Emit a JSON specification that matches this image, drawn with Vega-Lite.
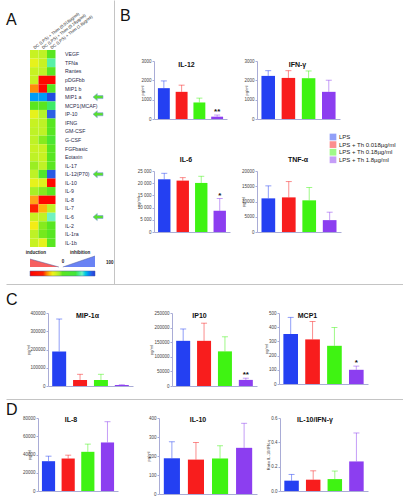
{
  "$schema": "https://vega.github.io/schema/vega-lite/v6.json",
  "padding": {"left": 6, "top": 0, "right": 0, "bottom": 0},
  "autosize": {"type": "pad"},
  "background": "white",
  "spacing": 0,
  "config": {
    "view": {"stroke": null},
    "font": "Liberation Sans",
    "title": {"font": "Liberation Sans", "fontSize": 7, "fontWeight": "bold", "color": "#111"},
    "axis": {"labelFont": "Liberation Sans", "titleFont": "Liberation Sans", "labelFontSize": 4.5, "titleFontSize": 4, "titleFontWeight": "normal", "labelColor": "#444", "titleColor": "#333", "domainColor": "#a9acd6", "tickColor": "#a9acd6", "tickSize": 2, "labelPadding": 1, "grid": false, "labelOverlap": false},
    "legend": {"labelFont": "Liberation Sans"}
  },
  "datasets": {
    "heat": [
      {"cytokine": "VEGF", "dose": "0.018µg/ml", "value": -18}, {"cytokine": "VEGF", "dose": "0.18µg/ml", "value": -15}, {"cytokine": "VEGF", "dose": "1.8µg/ml", "value": 2},
      {"cytokine": "TFNa", "dose": "0.018µg/ml", "value": -28}, {"cytokine": "TFNa", "dose": "0.18µg/ml", "value": -18}, {"cytokine": "TFNa", "dose": "1.8µg/ml", "value": 55},
      {"cytokine": "Rantes", "dose": "0.018µg/ml", "value": -18}, {"cytokine": "Rantes", "dose": "0.18µg/ml", "value": -15}, {"cytokine": "Rantes", "dose": "1.8µg/ml", "value": 3},
      {"cytokine": "pDGFbb", "dose": "0.018µg/ml", "value": -18}, {"cytokine": "pDGFbb", "dose": "0.18µg/ml", "value": -95}, {"cytokine": "pDGFbb", "dose": "1.8µg/ml", "value": -95},
      {"cytokine": "MIP1 b", "dose": "0.018µg/ml", "value": -48}, {"cytokine": "MIP1 b", "dose": "0.18µg/ml", "value": -95}, {"cytokine": "MIP1 b", "dose": "1.8µg/ml", "value": 3},
      {"cytokine": "MIP1 a", "dose": "0.018µg/ml", "value": 78}, {"cytokine": "MIP1 a", "dose": "0.18µg/ml", "value": 78}, {"cytokine": "MIP1 a", "dose": "1.8µg/ml", "value": 95},
      {"cytokine": "MCP1(MCAF)", "dose": "0.018µg/ml", "value": 0}, {"cytokine": "MCP1(MCAF)", "dose": "0.18µg/ml", "value": 2}, {"cytokine": "MCP1(MCAF)", "dose": "1.8µg/ml", "value": 45},
      {"cytokine": "IP-10", "dose": "0.018µg/ml", "value": -28}, {"cytokine": "IP-10", "dose": "0.18µg/ml", "value": -12}, {"cytokine": "IP-10", "dose": "1.8µg/ml", "value": 88},
      {"cytokine": "IFNG", "dose": "0.018µg/ml", "value": -18}, {"cytokine": "IFNG", "dose": "0.18µg/ml", "value": -15}, {"cytokine": "IFNG", "dose": "1.8µg/ml", "value": 3},
      {"cytokine": "GM-CSF", "dose": "0.018µg/ml", "value": -15}, {"cytokine": "GM-CSF", "dose": "0.18µg/ml", "value": -15}, {"cytokine": "GM-CSF", "dose": "1.8µg/ml", "value": 5},
      {"cytokine": "G-CSF", "dose": "0.018µg/ml", "value": -15}, {"cytokine": "G-CSF", "dose": "0.18µg/ml", "value": -5}, {"cytokine": "G-CSF", "dose": "1.8µg/ml", "value": 25},
      {"cytokine": "FGFbasic", "dose": "0.018µg/ml", "value": -18}, {"cytokine": "FGFbasic", "dose": "0.18µg/ml", "value": -18}, {"cytokine": "FGFbasic", "dose": "1.8µg/ml", "value": 3},
      {"cytokine": "Eotaxin", "dose": "0.018µg/ml", "value": -15}, {"cytokine": "Eotaxin", "dose": "0.18µg/ml", "value": -18}, {"cytokine": "Eotaxin", "dose": "1.8µg/ml", "value": 3},
      {"cytokine": "IL-17", "dose": "0.018µg/ml", "value": -8}, {"cytokine": "IL-17", "dose": "0.18µg/ml", "value": -15}, {"cytokine": "IL-17", "dose": "1.8µg/ml", "value": 2},
      {"cytokine": "IL-12(P70)", "dose": "0.018µg/ml", "value": -15}, {"cytokine": "IL-12(P70)", "dose": "0.18µg/ml", "value": 15}, {"cytokine": "IL-12(P70)", "dose": "1.8µg/ml", "value": 90},
      {"cytokine": "IL-10", "dose": "0.018µg/ml", "value": -28}, {"cytokine": "IL-10", "dose": "0.18µg/ml", "value": -25}, {"cytokine": "IL-10", "dose": "1.8µg/ml", "value": -92},
      {"cytokine": "IL-9", "dose": "0.018µg/ml", "value": -10}, {"cytokine": "IL-9", "dose": "0.18µg/ml", "value": -5}, {"cytokine": "IL-9", "dose": "1.8µg/ml", "value": 2},
      {"cytokine": "IL-8", "dose": "0.018µg/ml", "value": -45}, {"cytokine": "IL-8", "dose": "0.18µg/ml", "value": -95}, {"cytokine": "IL-8", "dose": "1.8µg/ml", "value": -95},
      {"cytokine": "IL-7", "dose": "0.018µg/ml", "value": -58}, {"cytokine": "IL-7", "dose": "0.18µg/ml", "value": -42}, {"cytokine": "IL-7", "dose": "1.8µg/ml", "value": -15},
      {"cytokine": "IL-6", "dose": "0.018µg/ml", "value": -18}, {"cytokine": "IL-6", "dose": "0.18µg/ml", "value": -15}, {"cytokine": "IL-6", "dose": "1.8µg/ml", "value": 60},
      {"cytokine": "IL-2", "dose": "0.018µg/ml", "value": -33}, {"cytokine": "IL-2", "dose": "0.18µg/ml", "value": -5}, {"cytokine": "IL-2", "dose": "1.8µg/ml", "value": 3},
      {"cytokine": "IL-1ra", "dose": "0.018µg/ml", "value": -15}, {"cytokine": "IL-1ra", "dose": "0.18µg/ml", "value": -3}, {"cytokine": "IL-1ra", "dose": "1.8µg/ml", "value": 5},
      {"cytokine": "IL-1b", "dose": "0.018µg/ml", "value": -18}, {"cytokine": "IL-1b", "dose": "0.18µg/ml", "value": -28}, {"cytokine": "IL-1b", "dose": "1.8µg/ml", "value": 3}
    ],
    "arrows": [{"cytokine": "MIP1 a"}, {"cytokine": "IP-10"}, {"cytokine": "IL-12(P70)"}, {"cytokine": "IL-6"}],
    "wedge": [
      {"side": "induction", "v": -100, "h": 8}, {"side": "induction", "v": -11, "h": 0},
      {"side": "inhibition", "v": 1, "h": 0}, {"side": "inhibition", "v": 100, "h": 11}
    ],
    "wedgeText": [
      {"label": "induction", "v": -82, "h": 14.3}, {"label": "inhibition", "v": 54, "h": 14.3},
      {"label": "0", "v": 1.5, "h": 5}, {"label": "100", "v": 145, "h": 4}
    ],
    "bars": [
      {"panel": "IL-12", "group": "LPS", "mean": 1595, "upper": 1970},
      {"panel": "IL-12", "group": "LPS + Th 0.018µg/ml", "mean": 1405, "upper": 1750},
      {"panel": "IL-12", "group": "LPS + Th 0.18µg/ml", "mean": 855, "upper": 1080},
      {"panel": "IL-12", "group": "LPS + Th 1.8µg/ml", "mean": 120, "upper": 205, "sig": "**"},
      {"panel": "IFN-γ", "group": "LPS", "mean": 2230, "upper": 2500},
      {"panel": "IFN-γ", "group": "LPS + Th 0.018µg/ml", "mean": 2125, "upper": 2500},
      {"panel": "IFN-γ", "group": "LPS + Th 0.18µg/ml", "mean": 2110, "upper": 2485},
      {"panel": "IFN-γ", "group": "LPS + Th 1.8µg/ml", "mean": 1405, "upper": 2005},
      {"panel": "IL-6", "group": "LPS", "mean": 21600, "upper": 24050},
      {"panel": "IL-6", "group": "LPS + Th 0.018µg/ml", "mean": 21060, "upper": 22280},
      {"panel": "IL-6", "group": "LPS + Th 0.18µg/ml", "mean": 20110, "upper": 22830},
      {"panel": "IL-6", "group": "LPS + Th 1.8µg/ml", "mean": 8700, "upper": 13720, "sig": "*"},
      {"panel": "TNF-α", "group": "LPS", "mean": 11030, "upper": 15130},
      {"panel": "TNF-α", "group": "LPS + Th 0.018µg/ml", "mean": 11350, "upper": 16540},
      {"panel": "TNF-α", "group": "LPS + Th 0.18µg/ml", "mean": 10380, "upper": 14590},
      {"panel": "TNF-α", "group": "LPS + Th 1.8µg/ml", "mean": 3890, "upper": 6490},
      {"panel": "MIP-1α", "group": "LPS", "mean": 189000, "upper": 367000},
      {"panel": "MIP-1α", "group": "LPS + Th 0.018µg/ml", "mean": 33000, "upper": 64000},
      {"panel": "MIP-1α", "group": "LPS + Th 0.18µg/ml", "mean": 33000, "upper": 64000},
      {"panel": "MIP-1α", "group": "LPS + Th 1.8µg/ml", "mean": 5500, "upper": 7000},
      {"panel": "IP10", "group": "LPS", "mean": 154700, "upper": 195300},
      {"panel": "IP10", "group": "LPS + Th 0.018µg/ml", "mean": 154700, "upper": 215100},
      {"panel": "IP10", "group": "LPS + Th 0.18µg/ml", "mean": 118600, "upper": 168600},
      {"panel": "IP10", "group": "LPS + Th 1.8µg/ml", "mean": 20900, "upper": 26700, "sig": "**"},
      {"panel": "MCP1", "group": "LPS", "mean": 352, "upper": 469},
      {"panel": "MCP1", "group": "LPS + Th 0.018µg/ml", "mean": 314, "upper": 440},
      {"panel": "MCP1", "group": "LPS + Th 0.18µg/ml", "mean": 269, "upper": 398},
      {"panel": "MCP1", "group": "LPS + Th 1.8µg/ml", "mean": 100, "upper": 126, "sig": "*"},
      {"panel": "IL-8", "group": "LPS", "mean": 32660, "upper": 38160},
      {"panel": "IL-8", "group": "LPS + Th 0.018µg/ml", "mean": 35600, "upper": 39270},
      {"panel": "IL-8", "group": "LPS + Th 0.18µg/ml", "mean": 42940, "upper": 51380},
      {"panel": "IL-8", "group": "LPS + Th 1.8µg/ml", "mean": 53200, "upper": 75960},
      {"panel": "IL-10", "group": "LPS", "mean": 188, "upper": 275},
      {"panel": "IL-10", "group": "LPS + Th 0.018µg/ml", "mean": 181, "upper": 271},
      {"panel": "IL-10", "group": "LPS + Th 0.18µg/ml", "mean": 187, "upper": 254},
      {"panel": "IL-10", "group": "LPS + Th 1.8µg/ml", "mean": 243, "upper": 372},
      {"panel": "IL-10/IFN-γ", "group": "LPS", "mean": 0.085, "upper": 0.136},
      {"panel": "IL-10/IFN-γ", "group": "LPS + Th 0.018µg/ml", "mean": 0.093, "upper": 0.166},
      {"panel": "IL-10/IFN-γ", "group": "LPS + Th 0.18µg/ml", "mean": 0.098, "upper": 0.164},
      {"panel": "IL-10/IFN-γ", "group": "LPS + Th 1.8µg/ml", "mean": 0.243, "upper": 0.477}
    ]
  },
  "resolve": {"scale": {"color": "independent"}},
  "vconcat": [
    {
      "title": {"text": "A", "anchor": "start", "fontSize": 16, "fontWeight": "normal", "baseline": "alphabetic", "offset": -41},
      "spacing": 0,
      "resolve": {"scale": {"color": "independent"}},
      "hconcat": [
        {"width": 18.7, "height": 10, "data": {"values": [{"v": 0}]}, "mark": {"type": "point", "opacity": 0}, "encoding": {}},
        {
          "spacing": 9,
          "bounds": "flush",
          "resolve": {"scale": {"color": "independent"}},
          "vconcat": [
            {"width": 10, "height": 41, "data": {"values": [{"v": 0}]}, "mark": {"type": "point", "opacity": 0}, "encoding": {}},
            {
              "width": 25.5, "height": 197,
              "data": {"name": "heat"},
              "encoding": {
                "x": {"field": "dose", "type": "nominal", "sort": null, "scale": {"padding": 0}, "axis": {"orient": "top", "labelAngle": -38, "labelAlign": "left", "labelBaseline": "middle", "labelFontSize": 4.2, "labelColor": "#222", "labelExpr": "'DC (LPS) + Thim (' + datum.label + ')'", "ticks": false, "domain": false, "title": null, "labelPadding": 2}},
                "y": {"field": "cytokine", "type": "nominal", "sort": null, "scale": {"padding": 0}, "axis": {"orient": "right", "ticks": false, "domain": false, "title": null, "labelPadding": 9, "labelFontSize": 5.2, "labelColor": "#2a2a4a"}}
              },
              "layer": [
                {"mark": {"type": "rect"}, "encoding": {"color": {"field": "value", "type": "quantitative", "scale": {"domain": [-100, -57, -46, -32, -12, 0, 40, 62, 85, 100], "range": ["#ff0000", "#ff2000", "#ff9c1c", "#f2f21c", "#b4f22a", "#5ae61e", "#42e63a", "#7cf2c8", "#3366e6", "#1f3ddc"]}, "legend": null}}},
                {"data": {"name": "arrows"}, "mark": {"type": "point", "shape": "M -1 0 L -0.15 -0.7 L -0.15 -0.3 L 1 -0.3 L 1 0.3 L -0.15 0.3 L -0.15 0.7 Z", "size": 100, "filled": true, "fill": "#58e02c", "stroke": "#7d9be0", "strokeWidth": 0.6, "opacity": 1, "xOffset": 46.75}, "encoding": {"x": {"datum": "1.8µg/ml"}}}
              ]
            },
            {
              "width": 65, "height": 11,
              "data": {"name": "wedge"},
              "encoding": {
                "x": {"field": "v", "type": "quantitative", "scale": {"domain": [-100, 100], "nice": false, "zero": false}, "axis": null},
                "y": {"field": "h", "type": "quantitative", "scale": {"domain": [0, 11], "nice": false}, "axis": null}
              },
              "layer": [
                {"transform": [{"filter": "datum.side == 'induction'"}], "mark": {"type": "area", "color": "#f21c1c", "line": {"color": "#4d5c9c", "strokeWidth": 0.5}}},
                {"transform": [{"filter": "datum.side == 'inhibition'"}], "mark": {"type": "area", "color": "#2b4ff0", "line": {"color": "#4d5c9c", "strokeWidth": 0.5}}},
                {"mark": {"type": "point", "opacity": 0}, "encoding": {"color": {"field": "v", "type": "quantitative", "scale": {"domain": [-100, -57, -46, -32, -12, 0, 40, 62, 85, 100], "range": ["#ff0000", "#ff2000", "#ff9c1c", "#f2f21c", "#b4f22a", "#5ae61e", "#42e63a", "#7cf2c8", "#3366e6", "#1f3ddc"]}, "legend": {"orient": "none", "legendX": 0, "legendY": 15, "direction": "horizontal", "gradientLength": 65, "gradientThickness": 5, "title": null, "labelExpr": "''", "labelFontSize": 1, "gradientStrokeColor": "#4d5c9c", "gradientStrokeWidth": 0.5, "padding": 0}}}},
                {"data": {"name": "wedgeText"}, "mark": {"type": "text", "fontSize": 4.5, "fontWeight": "bold", "color": "#222"}, "encoding": {"text": {"field": "label"}}}
              ]
            }
          ]
        },
        {
          "width": 5.6, "height": 284,
          "data": {"values": [{"v": 0}]},
          "mark": {"type": "point", "opacity": 0},
          "encoding": {"y": {"field": "v", "type": "quantitative", "axis": {"domain": true, "domainColor": "#c4c4c4", "domainWidth": 1, "ticks": false, "labels": false, "title": null}}}
        },
        {
          "title": {"text": "B", "anchor": "start", "fontSize": 16, "fontWeight": "normal", "baseline": "alphabetic", "offset": -37},
          "columns": 3,
          "spacing": {"row": 52, "column": 27},
          "bounds": "flush",
          "align": "each",
          "resolve": {"scale": {"color": "independent"}},
          "concat": [
            {"width": 7, "height": 9, "data": {"values": [{"v": 0}]}, "mark": {"type": "point", "opacity": 0}, "encoding": {}},
            {"width": 1, "height": 9, "data": {"values": [{"v": 0}]}, "mark": {"type": "point", "opacity": 0}, "encoding": {}},
            {"width": 1, "height": 9, "data": {"values": [{"v": 0}]}, "mark": {"type": "point", "opacity": 0}, "encoding": {}},
            {"width": 7, "height": 9, "data": {"values": [{"v": 0}]}, "mark": {"type": "point", "opacity": 0}, "encoding": {}},
            {
              "width": 73, "height": 58,
              "title": {"text": "IL-12", "offset": -10, "dx": -4},
              "data": {"name": "bars"},
              "transform": [{"filter": "datum.panel == 'IL-12'"}],
              "encoding": {
                "x": {"field": "group", "type": "nominal", "sort": null, "scale": {"paddingInner": 0.33, "paddingOuter": 0.22}, "axis": {"labels": false, "ticks": false, "title": null}},
                "y": {"field": "mean", "type": "quantitative", "scale": {"domain": [0, 3000], "nice": false}, "axis": {"values": [0, 1000, 2000, 3000], "format": "d", "title": "pg/ml", "titlePadding": -4}},
                "color": {"field": "group", "type": "nominal", "sort": null, "scale": {"domain": ["LPS", "LPS + Th 0.018µg/ml", "LPS + Th 0.18µg/ml", "LPS + Th 1.8µg/ml"], "range": ["#2440f2", "#f81d1d", "#3ff312", "#8c3ef0"]}, "legend": null}
              },
              "layer": [
                {"mark": {"type": "rule", "opacity": 0.5, "strokeWidth": 1}, "encoding": {"y2": {"field": "upper"}}},
                {"mark": {"type": "tick", "opacity": 0.5, "thickness": 1, "size": 6}, "encoding": {"y": {"field": "upper", "type": "quantitative"}}},
                {"mark": {"type": "bar"}},
                {"transform": [{"filter": "datum.sig"}], "mark": {"type": "text", "fontSize": 8, "fontWeight": "bold", "dy": -3}, "encoding": {"y": {"field": "upper", "type": "quantitative"}, "text": {"field": "sig"}, "color": {"value": "#111"}}}
              ]
            },
            {
              "width": 83, "height": 58,
              "title": {"text": "IFN-γ", "offset": -10, "dx": -1},
              "data": {"name": "bars"},
              "transform": [{"filter": "datum.panel == 'IFN-γ'"}],
              "encoding": {
                "x": {"field": "group", "type": "nominal", "sort": null, "scale": {"paddingInner": 0.33, "paddingOuter": 0.22}, "axis": {"labels": false, "ticks": false, "title": null}},
                "y": {"field": "mean", "type": "quantitative", "scale": {"domain": [0, 3000], "nice": false}, "axis": {"values": [0, 1000, 2000, 3000], "format": "d", "title": "pg/ml", "titlePadding": -5}},
                "color": {"field": "group", "type": "nominal", "sort": null, "scale": {"domain": ["LPS", "LPS + Th 0.018µg/ml", "LPS + Th 0.18µg/ml", "LPS + Th 1.8µg/ml"], "range": ["#2440f2", "#f81d1d", "#3ff312", "#8c3ef0"]}, "legend": {"orient": "none", "legendX": 72.5, "legendY": 72.5, "title": null, "symbolType": "square", "symbolSize": 45, "symbolStrokeWidth": 0, "labelFontSize": 6, "labelColor": "#222", "rowPadding": 0.6, "labelOffset": 2.5, "padding": 0}}
              },
              "layer": [
                {"mark": {"type": "rule", "opacity": 0.5, "strokeWidth": 1}, "encoding": {"y2": {"field": "upper"}}},
                {"mark": {"type": "tick", "opacity": 0.5, "thickness": 1, "size": 6}, "encoding": {"y": {"field": "upper", "type": "quantitative"}}},
                {"mark": {"type": "bar"}}
              ]
            },
            {"width": 7, "height": 9, "data": {"values": [{"v": 0}]}, "mark": {"type": "point", "opacity": 0}, "encoding": {}},
            {
              "width": 76, "height": 61,
              "title": {"text": "IL-6", "offset": 5, "dx": -6},
              "data": {"name": "bars"},
              "transform": [{"filter": "datum.panel == 'IL-6'"}],
              "encoding": {
                "x": {"field": "group", "type": "nominal", "sort": null, "scale": {"paddingInner": 0.33, "paddingOuter": 0.22}, "axis": {"labels": false, "ticks": false, "title": null}},
                "y": {"field": "mean", "type": "quantitative", "scale": {"domain": [0, 25000], "nice": false}, "axis": {"values": [0, 5000, 10000, 15000, 20000, 25000], "labelExpr": "replace(format(datum.value, ','), ',', ' ')", "title": "pg/ml", "titlePadding": -3}},
                "color": {"field": "group", "type": "nominal", "sort": null, "scale": {"domain": ["LPS", "LPS + Th 0.018µg/ml", "LPS + Th 0.18µg/ml", "LPS + Th 1.8µg/ml"], "range": ["#2440f2", "#f81d1d", "#3ff312", "#8c3ef0"]}, "legend": null}
              },
              "layer": [
                {"mark": {"type": "rule", "opacity": 0.5, "strokeWidth": 1}, "encoding": {"y2": {"field": "upper"}}},
                {"mark": {"type": "tick", "opacity": 0.5, "thickness": 1, "size": 6}, "encoding": {"y": {"field": "upper", "type": "quantitative"}}},
                {"mark": {"type": "bar"}},
                {"transform": [{"filter": "datum.sig"}], "mark": {"type": "text", "fontSize": 8, "fontWeight": "bold", "dy": -3}, "encoding": {"y": {"field": "upper", "type": "quantitative"}, "text": {"field": "sig"}, "color": {"value": "#111"}}}
              ]
            },
            {
              "width": 84, "height": 61,
              "title": {"text": "TNF-α", "offset": 5, "dx": -1},
              "data": {"name": "bars"},
              "transform": [{"filter": "datum.panel == 'TNF-α'"}],
              "encoding": {
                "x": {"field": "group", "type": "nominal", "sort": null, "scale": {"paddingInner": 0.33, "paddingOuter": 0.22}, "axis": {"labels": false, "ticks": false, "title": null}},
                "y": {"field": "mean", "type": "quantitative", "scale": {"domain": [0, 20000], "nice": false}, "axis": {"values": [0, 5000, 10000, 15000, 20000], "format": "d", "title": "pg/ml", "titlePadding": -4.5}},
                "color": {"field": "group", "type": "nominal", "sort": null, "scale": {"domain": ["LPS", "LPS + Th 0.018µg/ml", "LPS + Th 0.18µg/ml", "LPS + Th 1.8µg/ml"], "range": ["#2440f2", "#f81d1d", "#3ff312", "#8c3ef0"]}, "legend": null}
              },
              "layer": [
                {"mark": {"type": "rule", "opacity": 0.5, "strokeWidth": 1}, "encoding": {"y2": {"field": "upper"}}},
                {"mark": {"type": "tick", "opacity": 0.5, "thickness": 1, "size": 6}, "encoding": {"y": {"field": "upper", "type": "quantitative"}}},
                {"mark": {"type": "bar"}}
              ]
            }
          ]
        }
      ]
    },
    {
      "width": 397, "height": 7,
      "data": {"values": [{"v": 0}]},
      "mark": {"type": "point", "opacity": 0},
      "encoding": {"x": {"field": "v", "type": "quantitative", "axis": {"orient": "top", "domain": true, "domainColor": "#c4c4c4", "domainWidth": 1, "ticks": false, "labels": false, "title": null}}}
    },
    {
      "title": {"text": "C", "anchor": "start", "fontSize": 16, "fontWeight": "normal", "baseline": "alphabetic", "offset": -10.75},
      "spacing": 8,
      "bounds": "flush",
      "resolve": {"scale": {"color": "independent"}},
      "hconcat": [
        {"width": 34, "height": 10, "data": {"values": [{"v": 0}]}, "mark": {"type": "point", "opacity": 0}, "encoding": {}},
        {
          "width": 85, "height": 73,
          "title": {"text": "MIP-1α", "offset": -9, "dx": -3},
          "data": {"name": "bars"},
          "transform": [{"filter": "datum.panel == 'MIP-1α'"}],
          "encoding": {
            "x": {"field": "group", "type": "nominal", "sort": null, "scale": {"paddingInner": 0.33, "paddingOuter": 0.2}, "axis": {"labels": false, "ticks": false, "title": null}},
            "y": {"field": "mean", "type": "quantitative", "scale": {"domain": [0, 400000], "nice": false}, "axis": {"values": [0, 100000, 200000, 300000, 400000], "format": "d", "title": "pg/ml", "titlePadding": -1}},
            "color": {"field": "group", "type": "nominal", "sort": null, "scale": {"domain": ["LPS", "LPS + Th 0.018µg/ml", "LPS + Th 0.18µg/ml", "LPS + Th 1.8µg/ml"], "range": ["#2440f2", "#f81d1d", "#3ff312", "#8c3ef0"]}, "legend": null}
          },
          "layer": [
            {"mark": {"type": "rule", "opacity": 0.5, "strokeWidth": 1}, "encoding": {"y2": {"field": "upper"}}},
            {"mark": {"type": "tick", "opacity": 0.5, "thickness": 1, "size": 6}, "encoding": {"y": {"field": "upper", "type": "quantitative"}}},
            {"mark": {"type": "bar"}}
          ]
        },
        {"width": 23, "height": 10, "data": {"values": [{"v": 0}]}, "mark": {"type": "point", "opacity": 0}, "encoding": {}},
        {
          "width": 85, "height": 73,
          "title": {"text": "IP10", "offset": -9, "dx": -15},
          "data": {"name": "bars"},
          "transform": [{"filter": "datum.panel == 'IP10'"}],
          "encoding": {
            "x": {"field": "group", "type": "nominal", "sort": null, "scale": {"paddingInner": 0.33, "paddingOuter": 0.2}, "axis": {"labels": false, "ticks": false, "title": null}},
            "y": {"field": "mean", "type": "quantitative", "scale": {"domain": [0, 250000], "nice": false}, "axis": {"values": [0, 50000, 100000, 150000, 200000, 250000], "format": "d", "title": "pg/ml", "titlePadding": 0}},
            "color": {"field": "group", "type": "nominal", "sort": null, "scale": {"domain": ["LPS", "LPS + Th 0.018µg/ml", "LPS + Th 0.18µg/ml", "LPS + Th 1.8µg/ml"], "range": ["#2440f2", "#f81d1d", "#3ff312", "#8c3ef0"]}, "legend": null}
          },
          "layer": [
            {"mark": {"type": "rule", "opacity": 0.5, "strokeWidth": 1}, "encoding": {"y2": {"field": "upper"}}},
            {"mark": {"type": "tick", "opacity": 0.5, "thickness": 1, "size": 6}, "encoding": {"y": {"field": "upper", "type": "quantitative"}}},
            {"mark": {"type": "bar"}},
            {"transform": [{"filter": "datum.sig"}], "mark": {"type": "text", "fontSize": 8, "fontWeight": "bold", "dy": -3}, "encoding": {"y": {"field": "upper", "type": "quantitative"}, "text": {"field": "sig"}, "color": {"value": "#111"}}}
          ]
        },
        {"width": 6, "height": 10, "data": {"values": [{"v": 0}]}, "mark": {"type": "point", "opacity": 0}, "encoding": {}},
        {
          "width": 89, "height": 71,
          "title": {"text": "MCP1", "offset": -9, "dx": -16},
          "data": {"name": "bars"},
          "transform": [{"filter": "datum.panel == 'MCP1'"}],
          "encoding": {
            "x": {"field": "group", "type": "nominal", "sort": null, "scale": {"paddingInner": 0.33, "paddingOuter": 0.2}, "axis": {"labels": false, "ticks": false, "title": null}},
            "y": {"field": "mean", "type": "quantitative", "scale": {"domain": [0, 500], "nice": false}, "axis": {"values": [0, 100, 200, 300, 400, 500], "format": "d", "title": "pg/ml", "titlePadding": -0.5}},
            "color": {"field": "group", "type": "nominal", "sort": null, "scale": {"domain": ["LPS", "LPS + Th 0.018µg/ml", "LPS + Th 0.18µg/ml", "LPS + Th 1.8µg/ml"], "range": ["#2440f2", "#f81d1d", "#3ff312", "#8c3ef0"]}, "legend": null}
          },
          "layer": [
            {"mark": {"type": "rule", "opacity": 0.5, "strokeWidth": 1}, "encoding": {"y2": {"field": "upper"}}},
            {"mark": {"type": "tick", "opacity": 0.5, "thickness": 1, "size": 6}, "encoding": {"y": {"field": "upper", "type": "quantitative"}}},
            {"mark": {"type": "bar"}},
            {"transform": [{"filter": "datum.sig"}], "mark": {"type": "text", "fontSize": 8, "fontWeight": "bold", "dy": -3}, "encoding": {"y": {"field": "upper", "type": "quantitative"}, "text": {"field": "sig"}, "color": {"value": "#111"}}}
          ]
        }
      ]
    },
    {
      "width": 397, "height": 13,
      "data": {"values": [{"v": 0}]},
      "mark": {"type": "point", "opacity": 0},
      "encoding": {"x": {"field": "v", "type": "quantitative", "axis": {"orient": "top", "offset": -11, "domain": true, "domainColor": "#c4c4c4", "domainWidth": 1, "ticks": false, "labels": false, "title": null}}}
    },
    {
      "title": {"text": "D", "anchor": "start", "fontSize": 16, "fontWeight": "normal", "baseline": "alphabetic", "offset": -15.85},
      "spacing": 8,
      "bounds": "flush",
      "resolve": {"scale": {"color": "independent"}},
      "hconcat": [
        {"width": 24, "height": 10, "data": {"values": [{"v": 0}]}, "mark": {"type": "point", "opacity": 0}, "encoding": {}},
        {
          "width": 80, "height": 73,
          "title": {"text": "IL-8", "offset": -8, "dx": -7},
          "data": {"name": "bars"},
          "transform": [{"filter": "datum.panel == 'IL-8'"}],
          "encoding": {
            "x": {"field": "group", "type": "nominal", "sort": null, "scale": {"paddingInner": 0.33, "paddingOuter": 0.2}, "axis": {"labels": false, "ticks": false, "title": null}},
            "y": {"field": "mean", "type": "quantitative", "scale": {"domain": [0, 80000], "nice": false}, "axis": {"values": [0, 20000, 40000, 60000, 80000], "format": "d", "title": "pg/ml", "titlePadding": -9}},
            "color": {"field": "group", "type": "nominal", "sort": null, "scale": {"domain": ["LPS", "LPS + Th 0.018µg/ml", "LPS + Th 0.18µg/ml", "LPS + Th 1.8µg/ml"], "range": ["#2440f2", "#f81d1d", "#3ff312", "#8c3ef0"]}, "legend": null}
          },
          "layer": [
            {"mark": {"type": "rule", "opacity": 0.5, "strokeWidth": 1}, "encoding": {"y2": {"field": "upper"}}},
            {"mark": {"type": "tick", "opacity": 0.5, "thickness": 1, "size": 6}, "encoding": {"y": {"field": "upper", "type": "quantitative"}}},
            {"mark": {"type": "bar"}}
          ]
        },
        {"width": 25, "height": 10, "data": {"values": [{"v": 0}]}, "mark": {"type": "point", "opacity": 0}, "encoding": {}},
        {
          "width": 98, "height": 76,
          "title": {"text": "IL-10", "offset": -8, "dx": -10},
          "data": {"name": "bars"},
          "transform": [{"filter": "datum.panel == 'IL-10'"}],
          "encoding": {
            "x": {"field": "group", "type": "nominal", "sort": null, "scale": {"paddingInner": 0.33, "paddingOuter": 0.2}, "axis": {"labels": false, "ticks": false, "title": null}},
            "y": {"field": "mean", "type": "quantitative", "scale": {"domain": [0, 400], "nice": false}, "axis": {"values": [0, 100, 200, 300, 400], "format": "d", "title": "pg/ml", "titlePadding": -2.5}},
            "color": {"field": "group", "type": "nominal", "sort": null, "scale": {"domain": ["LPS", "LPS + Th 0.018µg/ml", "LPS + Th 0.18µg/ml", "LPS + Th 1.8µg/ml"], "range": ["#2440f2", "#f81d1d", "#3ff312", "#8c3ef0"]}, "legend": null}
          },
          "layer": [
            {"mark": {"type": "rule", "opacity": 0.5, "strokeWidth": 1}, "encoding": {"y2": {"field": "upper"}}},
            {"mark": {"type": "tick", "opacity": 0.5, "thickness": 1, "size": 6}, "encoding": {"y": {"field": "upper", "type": "quantitative"}}},
            {"mark": {"type": "bar"}}
          ]
        },
        {"width": 7, "height": 10, "data": {"values": [{"v": 0}]}, "mark": {"type": "point", "opacity": 0}, "encoding": {}},
        {
          "width": 88, "height": 73,
          "title": {"text": "IL-10/IFN-γ", "offset": -8, "dx": -9},
          "data": {"name": "bars"},
          "transform": [{"filter": "datum.panel == 'IL-10/IFN-γ'"}],
          "encoding": {
            "x": {"field": "group", "type": "nominal", "sort": null, "scale": {"paddingInner": 0.33, "paddingOuter": 0.2}, "axis": {"labels": false, "ticks": false, "title": null}},
            "y": {"field": "mean", "type": "quantitative", "scale": {"domain": [0, 0.6], "nice": false}, "axis": {"values": [0, 0.2, 0.4, 0.6], "format": ".1f", "title": "Ratio IL-10/IFN-γ", "titlePadding": 0.5}},
            "color": {"field": "group", "type": "nominal", "sort": null, "scale": {"domain": ["LPS", "LPS + Th 0.018µg/ml", "LPS + Th 0.18µg/ml", "LPS + Th 1.8µg/ml"], "range": ["#2440f2", "#f81d1d", "#3ff312", "#8c3ef0"]}, "legend": null}
          },
          "layer": [
            {"mark": {"type": "rule", "opacity": 0.5, "strokeWidth": 1}, "encoding": {"y2": {"field": "upper"}}},
            {"mark": {"type": "tick", "opacity": 0.5, "thickness": 1, "size": 6}, "encoding": {"y": {"field": "upper", "type": "quantitative"}}},
            {"mark": {"type": "bar"}}
          ]
        }
      ]
    }
  ]
}
